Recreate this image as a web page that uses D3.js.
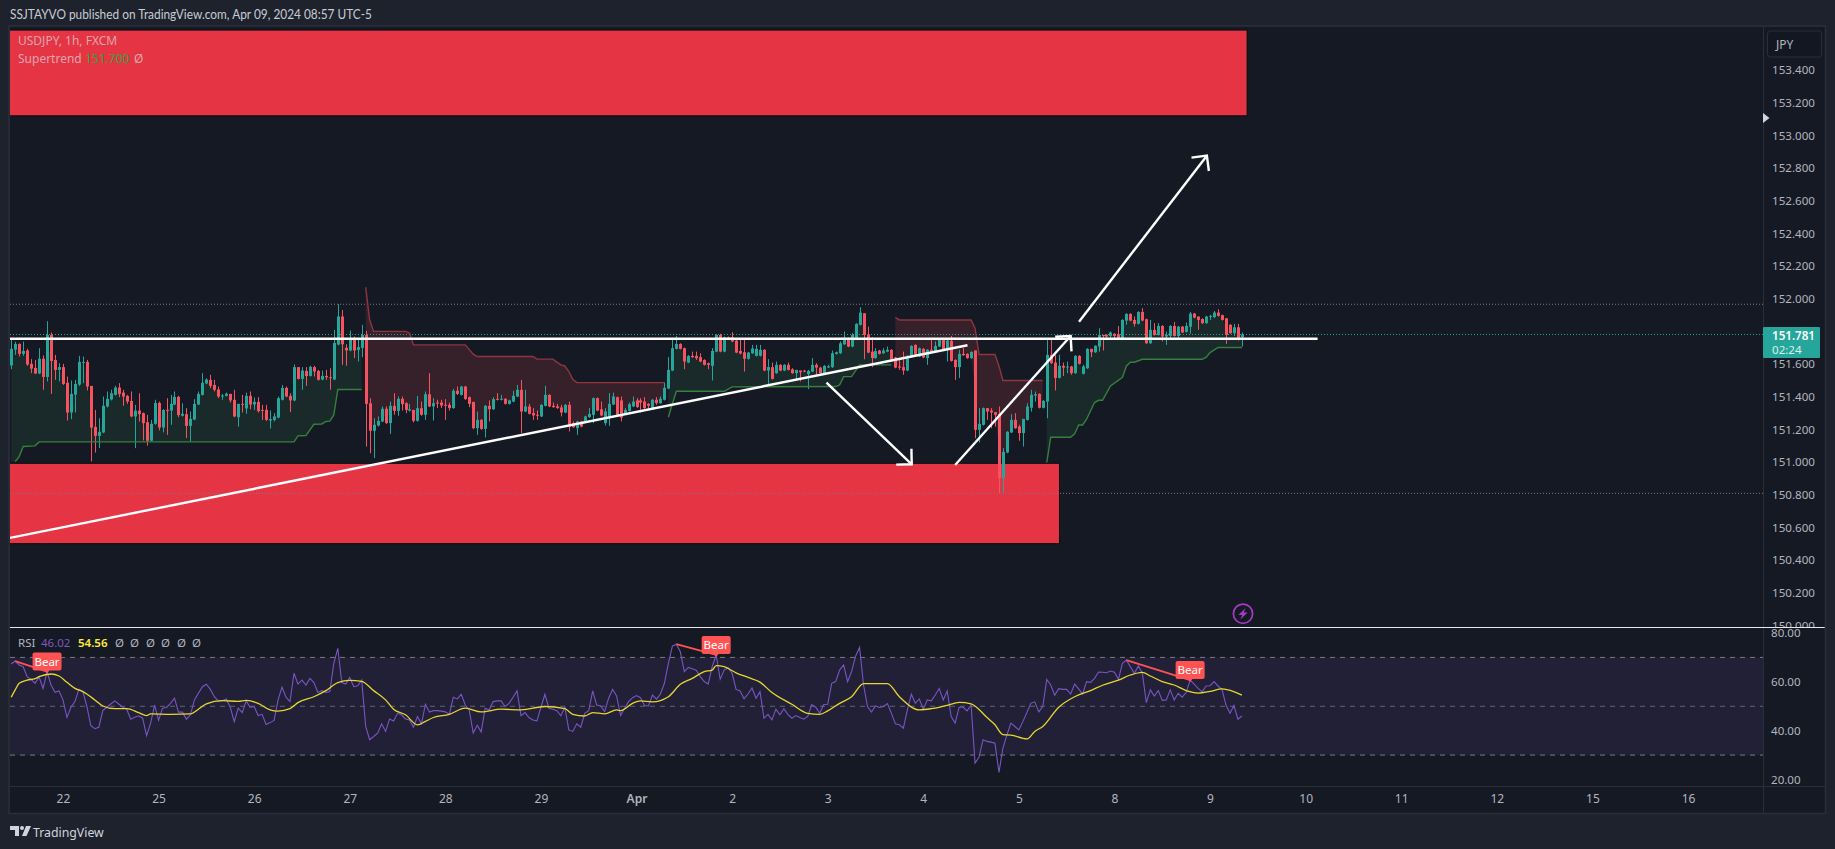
<!DOCTYPE html>
<html><head><meta charset="utf-8"><title>USDJPY 1h</title>
<script src="https://cdn.jsdelivr.net/npm/d3@7/dist/d3.min.js"></script>
<style>
html,body{margin:0;padding:0;background:#1e222d;overflow:hidden}
svg{display:block;font-family:"Noto Sans",sans-serif}
</style></head><body><svg id="c" width="1835" height="849"></svg>
<script>
const opens=[151.591,151.689,151.723,151.662,151.683,151.601,151.576,151.542,151.632,151.521,
151.778,151.625,151.564,151.581,151.485,151.303,151.413,151.474,151.609,151.613,
151.466,151.215,151.160,151.181,151.340,151.383,151.411,151.456,151.425,151.405,
151.374,151.279,151.315,151.299,151.244,151.130,151.234,151.362,151.211,151.319,
151.315,151.352,151.399,151.283,151.293,151.221,151.260,151.352,151.411,151.481,
151.503,151.472,151.444,151.403,151.405,151.417,151.381,151.274,151.356,151.328,
151.405,151.352,151.368,151.319,151.319,151.254,151.258,151.272,151.381,151.454,
151.405,151.377,151.581,151.509,151.558,151.527,151.581,151.558,151.505,151.527,
151.519,151.505,151.719,151.891,151.699,151.683,151.748,151.687,151.699,151.778,
151.360,151.191,151.223,151.248,151.326,151.238,151.344,151.313,151.387,151.360,
151.315,151.319,151.252,151.330,151.289,151.415,151.340,151.364,151.364,151.350,
151.350,151.330,151.436,151.411,151.462,151.397,151.368,151.207,151.258,151.203,
151.344,151.323,151.387,151.381,151.387,151.356,151.370,151.401,151.442,151.309,
151.340,151.299,151.289,151.279,151.344,151.411,151.344,151.340,151.334,151.303,
151.350,151.238,151.207,151.248,151.242,151.275,151.289,151.391,151.323,151.238,
151.279,151.352,151.397,151.377,151.293,151.313,151.340,151.377,151.377,151.370,
151.356,151.330,151.381,151.360,151.381,151.450,151.560,151.693,151.723,151.697,
151.609,151.650,151.650,151.642,151.625,151.605,151.589,151.676,151.778,151.676,
151.764,151.764,151.744,151.680,151.672,151.632,151.666,151.650,151.650,151.687,
151.560,151.581,151.544,151.595,151.560,151.595,151.568,151.544,151.560,151.560,
151.538,151.554,151.595,151.578,151.540,151.580,151.581,151.662,151.666,151.721,
151.758,151.707,151.752,151.840,151.911,151.782,151.676,151.636,151.683,151.666,
151.676,151.687,151.640,151.585,151.581,151.560,151.646,151.717,151.646,151.693,
151.636,151.687,151.676,151.707,151.748,151.691,151.742,151.625,151.581,151.662,
151.662,151.636,151.683,151.197,151.228,151.330,151.315,151.305,151.295,150.901,
151.058,151.181,151.258,151.217,151.177,151.258,151.332,151.407,151.417,151.332,
151.370,151.656,151.609,151.515,151.589,151.580,151.585,151.544,151.650,151.540,
151.574,151.693,151.672,151.707,151.778,151.778,151.772,151.785,151.782,151.754,
151.866,151.907,151.870,151.846,151.919,151.874,151.727,151.809,151.778,151.833,
151.768,151.772,151.833,151.772,151.829,151.797,151.829,151.909,151.891,151.876,
151.850,151.891,151.887,151.915,151.899,151.880,151.840,151.789,151.825,151.764];
const highs=[151.752,151.736,151.727,151.738,151.693,151.630,151.625,151.697,151.652,151.862,
151.793,151.656,151.605,151.601,151.523,151.499,151.503,151.650,151.646,151.625,
151.466,151.319,151.268,151.401,151.432,151.443,151.466,151.483,151.442,151.411,
151.432,151.350,151.421,151.303,151.289,151.258,151.381,151.370,151.323,151.391,
151.411,151.432,151.405,151.360,151.330,151.309,151.385,151.432,151.544,151.513,
151.534,151.503,151.462,151.417,151.425,151.417,151.442,151.356,151.411,151.425,
151.432,151.395,151.397,151.350,151.350,151.315,151.299,151.401,151.472,151.462,
151.421,151.597,151.581,151.581,151.581,151.589,151.589,151.564,151.560,151.564,
151.574,151.809,151.966,151.931,151.721,151.805,151.768,151.752,151.840,151.803,
151.391,151.268,151.279,151.340,151.340,151.370,151.421,151.401,151.401,151.366,
151.356,151.319,151.405,151.370,151.432,151.544,151.391,151.381,151.381,151.385,
151.364,151.448,151.462,151.466,151.466,151.401,151.368,151.309,151.262,151.348,
151.377,151.397,151.421,151.411,151.391,151.381,151.436,151.472,151.503,151.442,
151.356,151.330,151.315,151.354,151.466,151.415,151.364,151.356,151.350,151.354,
151.370,151.248,151.252,151.252,151.283,151.330,151.395,151.395,151.370,151.330,
151.421,151.425,151.401,151.401,151.330,151.364,151.401,151.391,151.391,151.397,
151.360,151.385,151.397,151.401,151.487,151.642,151.758,151.772,151.727,151.701,
151.654,151.676,151.676,151.666,151.629,151.609,151.697,151.782,151.785,151.768,
151.768,151.795,151.752,151.752,151.752,151.674,151.717,151.717,151.717,151.691,
151.630,151.609,151.615,151.599,151.599,151.609,151.574,151.564,151.560,151.564,
151.564,151.636,151.605,151.583,151.593,151.595,151.683,151.676,151.738,151.799,
151.762,151.789,151.850,151.948,151.911,151.829,151.764,151.697,151.687,151.697,
151.707,151.691,151.644,151.636,151.676,151.654,151.715,151.721,151.701,151.697,
151.691,151.752,151.738,151.752,151.752,151.748,151.772,151.629,151.687,151.697,
151.666,151.678,151.683,151.330,151.334,151.330,151.330,151.305,151.340,151.085,
151.189,151.293,151.299,151.228,151.264,151.360,151.442,151.432,151.421,151.379,
151.748,151.748,151.656,151.656,151.609,151.615,151.589,151.654,151.654,151.595,
151.697,151.693,151.715,151.819,151.778,151.782,151.799,151.789,151.833,151.874,
151.911,151.911,151.891,151.923,151.942,151.878,151.870,151.850,151.850,151.838,
151.799,151.838,151.858,151.833,151.833,151.854,151.919,151.913,151.891,151.880,
151.895,151.901,151.925,151.935,151.903,151.880,151.844,151.846,151.846,151.793];
const lows=[151.568,151.656,151.646,151.650,151.589,151.544,151.538,151.538,151.442,151.493,
151.417,151.503,151.493,151.472,151.254,151.262,151.303,151.466,151.483,151.438,
151.003,151.058,151.085,151.177,151.334,151.377,151.407,151.397,151.344,151.356,
151.274,151.085,151.248,151.132,151.100,151.126,151.228,151.193,151.181,151.166,
151.228,151.348,151.274,151.279,151.146,151.126,151.256,151.348,151.407,151.476,
151.452,151.432,151.391,151.381,151.401,151.364,151.274,151.217,151.303,151.295,
151.323,151.319,151.303,151.258,151.252,151.205,151.248,151.268,151.377,151.397,
151.305,151.372,151.505,151.442,151.466,151.523,151.523,151.499,151.501,151.503,
151.442,151.501,151.715,151.595,151.589,151.678,151.636,151.615,151.642,151.095,
151.054,151.024,151.217,151.244,151.234,151.172,151.289,151.283,151.315,151.299,
151.309,151.242,151.248,151.283,151.258,151.336,151.254,151.330,151.330,151.258,
151.315,151.326,151.411,151.407,151.381,151.336,151.201,151.166,151.197,151.150,
151.248,151.319,151.377,151.377,151.352,151.352,151.366,151.397,151.177,151.305,
151.291,151.258,151.258,151.275,151.340,151.336,151.332,151.326,151.279,151.299,
151.187,151.209,151.166,151.213,151.238,151.270,151.238,151.311,151.281,151.223,
151.221,151.348,151.285,151.248,151.289,151.309,151.336,151.332,151.303,151.326,
151.330,151.326,151.350,151.356,151.377,151.446,151.556,151.689,151.689,151.568,
151.605,151.638,151.625,151.611,151.591,151.568,151.499,151.672,151.672,151.672,
151.756,151.734,151.666,151.660,151.554,151.627,151.662,151.646,151.646,151.556,
151.462,151.505,151.540,151.556,151.556,151.560,151.540,151.499,151.493,151.550,
151.446,151.550,151.534,151.540,151.536,151.576,151.576,151.658,151.662,151.717,
151.703,151.703,151.748,151.836,151.629,151.666,151.581,151.632,151.658,151.662,
151.672,151.621,151.574,151.564,151.534,151.556,151.642,151.652,151.642,151.636,
151.595,151.672,151.672,151.703,151.687,151.615,151.615,151.503,151.515,151.650,
151.632,151.632,151.146,151.119,151.223,151.258,151.207,151.217,150.809,150.809,
151.054,151.177,151.203,151.130,151.095,151.254,151.309,151.370,151.328,151.328,
151.268,151.601,151.438,151.511,151.527,151.544,151.534,151.540,151.597,151.536,
151.570,151.642,151.668,151.676,151.683,151.752,151.752,151.752,151.750,151.750,
151.840,151.862,151.829,151.842,151.862,151.723,151.723,151.774,151.774,151.738,
151.717,151.752,151.768,151.752,151.789,151.793,151.785,151.880,151.809,151.846,
151.846,151.870,151.882,151.891,151.866,151.723,151.785,151.772,151.744,151.707];
const closes=[151.693,151.723,151.662,151.680,151.597,151.572,151.542,151.632,151.521,151.778,
151.619,151.564,151.581,151.478,151.303,151.417,151.478,151.613,151.613,151.462,
151.211,151.160,151.185,151.344,151.387,151.421,151.456,151.417,151.401,151.370,
151.279,151.315,151.293,151.238,151.130,151.234,151.362,151.211,151.319,151.315,
151.356,151.399,151.287,151.295,151.221,151.264,151.356,151.417,151.485,151.505,
151.466,151.442,151.401,151.407,151.419,151.377,151.279,151.356,151.354,151.405,
151.352,151.368,151.311,151.313,151.258,151.262,151.279,151.391,151.454,151.401,
151.377,151.581,151.509,151.560,151.527,151.583,151.554,151.503,151.527,151.519,
151.513,151.729,151.891,151.721,151.683,151.752,151.683,151.703,151.778,151.356,
151.191,151.228,151.252,151.326,151.238,151.344,151.313,151.387,151.354,151.319,
151.323,151.252,151.330,151.289,151.415,151.340,151.360,151.360,151.346,151.344,
151.330,151.436,151.417,151.462,151.385,151.356,151.207,151.258,151.203,151.344,
151.323,151.385,151.381,151.387,151.356,151.377,151.405,151.442,151.309,151.340,
151.295,151.285,151.283,151.350,151.411,151.340,151.336,151.330,151.303,151.350,
151.217,151.213,151.248,151.217,151.279,151.295,151.391,151.315,151.285,151.309,
151.356,151.401,151.289,151.272,151.319,151.354,151.370,151.336,151.364,151.330,
151.344,151.381,151.360,151.387,151.454,151.564,151.697,151.723,151.693,151.615,
151.650,151.642,151.636,151.615,151.595,151.595,151.680,151.778,151.676,151.764,
151.760,151.738,151.670,151.664,151.632,151.670,151.695,151.693,151.687,151.560,
151.581,151.509,151.595,151.560,151.595,151.564,151.544,151.564,151.550,151.554,
151.558,151.595,151.578,151.544,151.589,151.585,151.666,151.672,151.727,151.754,
151.707,151.778,151.846,151.915,151.778,151.670,151.636,151.680,151.662,151.683,
151.687,151.625,151.578,151.578,151.560,151.650,151.711,151.656,151.697,151.640,
151.687,151.676,151.711,151.748,151.691,151.744,151.619,151.581,151.662,151.654,
151.636,151.674,151.197,151.234,151.330,151.309,151.303,151.289,150.901,151.062,
151.185,151.258,151.207,151.177,151.264,151.340,151.411,151.415,151.332,151.374,
151.656,151.605,151.515,151.589,151.578,151.585,151.544,151.650,151.601,151.585,
151.693,151.672,151.711,151.778,151.776,151.768,151.793,151.772,151.754,151.870,
151.907,151.866,151.846,151.919,151.866,151.727,151.809,151.778,151.833,151.768,
151.778,151.833,151.772,151.829,151.793,151.833,151.909,151.884,151.870,151.850,
151.891,151.895,151.915,151.895,151.870,151.778,151.789,151.825,151.758,151.781];
const rsiValues=[67.3,68.5,66.9,66.2,62.1,61.0,59.4,62.1,57.3,64.2,58.7,55.7,56.3,52.6,45.4,49.6,51.9,56.9,56.0,49.9,
42.0,40.8,41.4,48.2,49.6,50.9,52.2,50.9,49.6,48.8,44.7,45.5,46.1,45.1,38.0,43.1,50.5,44.2,49.2,49.5,
51.2,53.3,47.6,47.6,44.7,46.5,52.6,55.3,58.0,59.0,56.9,53.9,52.2,52.3,53.0,49.6,43.7,49.2,47.4,52.2,
49.5,49.9,46.2,46.7,42.5,43.3,44.2,52.6,57.8,53.7,51.9,63.5,59.1,60.7,58.7,61.4,59.7,55.6,56.4,55.7,
56.0,67.6,73.7,59.7,59.1,61.8,58.0,58.4,60.7,41.7,36.3,37.6,39.0,42.8,39.7,44.8,44.0,47.1,46.5,44.8,
44.4,41.4,45.8,42.8,50.8,47.6,48.2,48.2,48.0,47.7,46.7,53.7,53.0,54.9,50.5,48.5,39.0,42.2,39.5,49.2,
48.5,51.9,52.2,52.2,49.9,51.2,53.7,56.3,46.1,47.4,45.4,44.4,44.0,49.6,54.9,49.2,48.8,48.2,46.1,49.6,
40.3,39.7,42.8,41.4,47.1,48.2,56.3,50.5,50.1,47.8,53.3,56.9,54.2,
46.2,49.2,51.9,53.5,54.4,53.5,50.3,50.1,54.6,52.9,55.0,59.4,67.6,74.6,75.4,72.3,64.2,65.9,65.4,64.8,
62.1,60.1,59.1,66.2,71.0,61.0,64.8,65.8,63.5,56.9,56.3,53.1,55.0,57.5,53.3,56.0,45.1,46.7,44.4,48.8,
46.5,49.0,46.7,45.1,46.2,45.4,44.7,45.8,50.7,49.6,47.1,50.7,50.8,59.4,60.1,64.8,66.9,60.1,64.2,70.5,
74.1,58.7,49.9,47.6,50.1,49.5,49.9,51.1,47.1,42.8,42.4,41.0,48.5,54.9,51.2,53.0,48.8,52.6,52.2,54.6,
57.3,52.6,56.3,45.8,43.1,49.6,49.6,48.1,50.5,26.7,29.2,36.3,35.6,35.3,34.9,22.9,32.9,38.3,43.1,41.7,
40.3,43.7,47.4,51.2,51.8,47.7,49.9,61.0,58.7,54.5,57.2,56.9,56.9,55.0,59.1,57.1,55.0,60.1,59.8,61.4,
64.0,63.9,63.7,64.4,63.9,61.0,67.6,68.9,66.2,63.5,66.5,63.5,51.5,56.7,54.2,56.4,52.4,52.6,56.7,52.6,
55.3,53.7,55.6,60.7,59.1,57.3,56.0,58.3,58.4,60.1,58.3,56.9,50.5,47.1,50.3,44.7,46.02];
const rsiMaBars=[0,1,2,4,6,7,10,12,14,16,18,21,23,26,29,32,34,35,40,45,47,49,53,57,59,62,65,67,70,72,76,79,82,85,88,91,94,96,99,102,104,106,110,114,118,123,128,134,139,141,144,146,149,152,153,156,158,161,165,168,171,174,176,177,179,182,185,188,191,196,200,203,205,208,211,214,220,223,228,231,235,238,241,245,247,249,251,255,257,259,263,267,271,274,278,281,284,286,289,292,295,298,301,304,309];
const rsiMaValues=[53.7,56.7,59.4,60.7,61.3,62.1,63.2,62.4,59.8,57.3,56.0,52.6,50.1,49.0,49.0,47.4,46.2,46.9,46.7,46.9,48.8,51.0,52.3,52.0,52.4,51.2,48.5,48.0,49.0,51.5,53.9,56.4,59.7,60.6,60.2,56.4,52.6,48.8,46.5,42.4,43.8,45.4,46.7,49.2,47.7,48.8,48.5,49.9,49.0,46.7,46.0,47.4,46.9,48.5,48.2,51.2,52.2,51.8,53.9,59.0,61.4,64.2,64.8,66.6,66.2,63.7,61.8,59.9,55.6,50.8,47.1,46.7,48.1,51.2,53.9,59.3,59.3,53.9,48.5,49.0,50.4,51.6,51.0,45.4,42.4,38.4,38.2,36.6,39.7,41.7,49.6,53.9,56.4,58.6,60.7,62.8,63.9,62.4,60.1,58.7,56.4,55.4,56.1,57.1,54.56];

const upBars1=[1,2,3,6,7,71,72,74,76,78,79,80,81,82,88];
const upVals1=[151.003,151.033,151.095,151.099,151.123,151.123,151.16,151.162,151.231,151.233,151.248,151.25,151.288,151.444,151.444];
const downBars1=[89,90,91,99,100,101,114,116,117,131,132,136,138,139,140,141,142,164];
const downVals1=[152.07,151.87,151.80,151.80,151.79,151.717,151.717,151.66,151.646,151.646,151.63,151.63,151.595,151.588,151.554,151.507,151.486,151.486];
const upBars2=[165,166,167,179,181,207,208,209,211,213,221];
const upVals2=[151.274,151.356,151.433,151.433,151.46,151.462,151.472,151.523,151.523,151.595,151.595];
const downBars2=[222,223,241,242,243,247,248,249,259];
const downVals2=[151.886,151.87,151.87,151.819,151.658,151.658,151.588,151.499,151.499];
const upBars3=[260,261,266,267,268,269,270,272,273,274,276,279,280,281,282,284,299,300,301,303,309];
const upVals3=[150.997,151.152,151.152,151.172,151.227,151.227,151.262,151.364,151.378,151.378,151.466,151.519,151.588,151.611,151.611,151.629,151.629,151.64,151.67,151.701,151.701];

const priceTicks=[153.4,153.2,153,152.8,152.6,152.4,152.2,152,151.6,151.4,151.2,151,150.8,150.6,150.4,150.2,150];
const rsiTicks=[80,60,40,20];
const dayBars=[13,37,61,85,109,133,157,181,205,229,253,277,301,325,349,373,397,421];
const dayLabels=["22","25","26","27","28","29","Apr","2","3","4","5","8","9","10","11","12","15","16"];
const dottedLevels=[151.966,150.808];
const lastPrice=151.781;
// [fromBar, toBar, top price, bottom price]
const boxTop=[-5,310.3,153.645,153.12];
const boxBottom=[-5,263.2,150.992,150.5];
// [barA, priceA, barB, priceB]
const levelLine=[-5,151.755,328,151.755];
const trendLine=[-0.3,150.535,240.1,151.715];
const arrowDown=[204.7,151.486,226.1,150.986];
const arrowUp=[237,150.982,266,151.772];
const arrowTarget=[268.1,151.859,300.2,152.876];
// [barA, rsiA, barB, rsiB]
const bearDivs=[[1,68.5,9,64.2],[167,75.4,177,71.0],[280,68.9,296,60.7]];

const GREEN="#26a69a",RED="#f7525f",PANE="#151924",FRAME="#2a2e39",TXT="#b2b5be";
const svg=d3.select("#c");
const x=d3.scaleLinear([0,421],[11.2,1688]);
const y=d3.scaleLinear([152,150],[298.7,625.3]);
const ry=d3.scaleLinear([80,20],[633,779.5]);
const L=10,R=1763,O=1825,T=27,D=627,A=786,B=813;
const defs=svg.append("defs");
const cp=(id,a,b,c,d)=>defs.append("clipPath").attr("id",id).append("rect").attr("x",a).attr("y",b).attr("width",c).attr("height",d);
cp("main",L,T,R-L,D-T);cp("low",L,D,R-L,A-D);cp("pscale",R,T,O-R,D-T);
svg.append("rect").attr("x",L).attr("y",T).attr("width",O-L).attr("height",B-T).attr("fill",PANE);
svg.append("text").attr("x",10).attr("y",19).attr("fill","#c8cbd3").attr("font-size",13).attr("font-family","Lato,sans-serif").attr("textLength",362).attr("lengthAdjust","spacingAndGlyphs").text("SSJTAYVO published on TradingView.com, Apr 09, 2024 08:57 UTC-5");

const main=svg.append("g").attr("clip-path","url(#main)");
[boxTop,boxBottom].forEach(b=>main.append("rect").attr("x",x(b[0])).attr("y",y(b[2])).attr("width",x(b[1])-x(b[0])).attr("height",y(b[3])-y(b[2])).attr("fill","#e53545").attr("stroke","#0b0d12").attr("stroke-width",1));
dottedLevels.forEach(v=>main.append("line").attr("x1",L).attr("x2",R).attr("y1",y(v)).attr("y2",y(v)).attr("stroke","#787b86").attr("stroke-dasharray","1 2"));
main.append("line").attr("x1",L).attr("x2",R).attr("y1",y(lastPrice)).attr("y2",y(lastPrice)).attr("stroke",GREEN).attr("stroke-dasharray","1 2");

const segs=[[upBars1,upVals1,"up"],[downBars1,downVals1,"dn"],[upBars2,upVals2,"up"],[downBars2,downVals2,"dn"],[upBars3,upVals3,"up"]];
const firstBar=[0,89,165,222,260];
segs.forEach((s,i)=>{
  const st=d3.scaleLinear(s[0],s[1]).clamp(true);
  const idx=d3.range(firstBar[i],s[0][s[0].length-1]+1);
  main.append("path").attr("d",d3.area().x(n=>x(n)).y0(n=>y(st(n))).y1(n=>y((opens[n]+closes[n])/2))(idx))
    .attr("fill",s[2]=="up"?"rgba(76,175,80,.11)":"rgba(255,82,82,.14)");
});
const cg=main.append("g");
const bars=d3.range(opens.length);
cg.selectAll("line").data(bars).join("line").attr("x1",n=>Math.round(x(n))+.5).attr("x2",n=>Math.round(x(n))+.5)
  .attr("y1",n=>y(highs[n])).attr("y2",n=>y(lows[n])).attr("stroke",n=>closes[n]>=opens[n]?GREEN:RED);
cg.selectAll("rect").data(bars).join("rect").attr("x",n=>Math.round(x(n))-1).attr("width",3)
  .attr("y",n=>y(Math.max(opens[n],closes[n]))).attr("height",n=>Math.max(1,Math.abs(y(opens[n])-y(closes[n]))))
  .attr("fill",n=>closes[n]>=opens[n]?GREEN:RED);
const ln=d3.line().x(d=>x(d[0])).y(d=>y(d[1]));
segs.forEach(s=>main.append("path").attr("d",ln(d3.zip(s[0],s[1]))).attr("fill","none")
  .attr("stroke",s[2]=="up"?"#35803d":"#8e3540").attr("stroke-width",1.4));
const seg=(g,a,w)=>g.append("line").attr("x1",x(a[0])).attr("y1",y(a[1])).attr("x2",x(a[2])).attr("y2",y(a[3])).attr("stroke","#fff").attr("stroke-width",w);
seg(main,levelLine,2.4);seg(main,trendLine,2.4);
[arrowDown,arrowUp,arrowTarget].forEach(a=>{
  seg(main,a,2.4);
  const X=x(a[2]),Y=y(a[3]),ang=Math.atan2(y(a[1])-Y,x(a[0])-X);
  const p=d3.path(),len=15.5;
  p.moveTo(X+len*Math.cos(ang-Math.PI/4),Y+len*Math.sin(ang-Math.PI/4));p.lineTo(X,Y);p.lineTo(X+len*Math.cos(ang+Math.PI/4),Y+len*Math.sin(ang+Math.PI/4));
  main.append("path").attr("d",p.toString()).attr("fill","none").attr("stroke","#fff").attr("stroke-width",2.4);
});
// lightning marker
const bolt=svg.append("g").attr("transform","translate(1243,613.7)");
bolt.append("circle").attr("r",9.6).attr("fill","none").attr("stroke","#a63ac4").attr("stroke-width",1.7);
bolt.append("path").attr("d","M2.6 -5.8 L-4.6 1.2 L-.8 1.2 L-2.6 5.8 L4.6 -1.2 L.8 -1.2 Z").attr("fill","#a63ac4");

// legends
const leg=svg.append("g").attr("font-size",12);
leg.append("text").attr("x",18).attr("y",45).attr("fill","#e2a3ab").text("USDJPY, 1h, FXCM");
leg.append("text").attr("x",18).attr("y",63).attr("fill","#e2a3ab").text("Supertrend");
leg.append("text").attr("x",85).attr("y",63).attr("fill","#2fa33f").text("151.700");
leg.append("text").attr("x",134).attr("y",63).attr("fill","#e2a3ab").text("Ø");

// RSI pane
const low=svg.append("g").attr("clip-path","url(#low)");
low.append("rect").attr("x",L).attr("width",R-L).attr("y",ry(70)).attr("height",ry(30)-ry(70)).attr("fill","rgba(126,87,194,.12)");
[70,50,30].forEach(v=>low.append("line").attr("x1",L).attr("x2",R).attr("y1",ry(v)).attr("y2",ry(v)).attr("stroke","#787b86").attr("stroke-dasharray","5 5").attr("opacity",v==50?.75:1));
low.append("path").attr("d",d3.line().x((d,i)=>x(i)).y(d=>ry(d))(rsiValues)).attr("fill","none").attr("stroke","#7a54c4").attr("stroke-width",1.1);
low.append("path").attr("d",d3.line().curve(d3.curveMonotoneX).x(d=>x(d[0])).y(d=>ry(d[1]))(d3.zip(rsiMaBars,rsiMaValues))).attr("fill","none").attr("stroke","#e6d62f").attr("stroke-width",1.3);
bearDivs.forEach(b=>{
  low.append("line").attr("x1",x(b[0])).attr("y1",ry(b[1])).attr("x2",x(b[2])).attr("y2",ry(b[3])).attr("stroke","#ff5252").attr("stroke-width",1.8);
  const cx=x(b[2]),cy=ry(b[3]);
  low.append("path").attr("d",`M${cx-3} ${cy-2}L${cx} ${cy+2}L${cx+3} ${cy-2}Z`).attr("fill","#ff5252");
  low.append("rect").attr("x",cx-14.5).attr("y",cy-19).attr("width",29).attr("height",18).attr("rx",2).attr("fill","#ff5252");
  low.append("text").attr("x",cx).attr("y",cy-6).attr("text-anchor","middle").attr("fill","#fff").attr("font-size",11.5).text("Bear");
});
const rl=svg.append("g").attr("font-size",11.5);
rl.append("text").attr("x",18).attr("y",647).attr("fill",TXT).text("RSI");
rl.append("text").attr("x",41).attr("y",647).attr("fill","#7e57c2").text("46.02");
rl.append("text").attr("x",78).attr("y",647).attr("fill","#ffeb3b").attr("font-weight",600).text("54.56");
[115,130,146,161,177,192].forEach(v=>rl.append("text").attr("x",v).attr("y",647).attr("fill",TXT).text("Ø"));

// axes
const sty=g=>{g.select(".domain").remove();g.selectAll("text").attr("fill",TXT).attr("font-size",11.6).attr("font-family",'"Noto Sans",sans-serif');};
svg.append("g").attr("clip-path","url(#pscale)").append("g").attr("transform",`translate(${R},0)`)
  .call(d3.axisRight(y).tickValues(priceTicks).tickFormat(d3.format(".3f")).tickSize(0).tickPadding(9)).call(sty);
svg.append("g").attr("transform",`translate(${R},0)`)
  .call(d3.axisRight(ry).tickValues(rsiTicks).tickFormat(d3.format(".2f")).tickSize(0).tickPadding(8)).call(sty);
svg.append("g").attr("transform",`translate(0,${A})`)
  .call(d3.axisBottom(x).tickValues(dayBars).tickFormat((d,i)=>dayLabels[i]).tickSize(0).tickPadding(8)).call(sty)
  .selectAll("text").attr("font-size",12).attr("font-weight",(d,i)=>dayLabels[i]=="Apr"?600:400);

// frame lines
const hl=(a,b,c,col,w=1)=>svg.append("line").attr("x1",a).attr("x2",b).attr("y1",c).attr("y2",c).attr("stroke",col).attr("stroke-width",w);
const vl=(a,b,c,col)=>svg.append("line").attr("y1",a).attr("y2",b).attr("x1",c).attr("x2",c).attr("stroke",col);
vl(T,B,R+.5,FRAME);hl(L,O,A+.5,FRAME);
hl(L,O,D+.5,"#e8e8ec",1.2);
svg.append("rect").attr("x",L-1).attr("y",T-1).attr("width",O-L+1.5).attr("height",B-T+1.5).attr("fill","none").attr("stroke",FRAME).attr("stroke-width",1.6);

// JPY button, marker, last price tag
svg.append("rect").attr("x",1767.5).attr("y",31).attr("width",54).attr("height",26).attr("rx",3).attr("fill","#131722").attr("stroke",FRAME);
svg.append("text").attr("x",1776).attr("y",49).attr("fill",TXT).attr("font-size",12).text("JPY");
svg.append("path").attr("d","M1763 113L1769.5 118L1763 123Z").attr("fill","#d1d4dc");
svg.append("rect").attr("x",R).attr("y",327).attr("width",57).attr("height",31).attr("rx",1).attr("fill",GREEN);
svg.append("text").attr("x",1772).attr("y",340).attr("fill","#fff").attr("font-size",11.6).attr("font-weight",600).text("151.781");
svg.append("text").attr("x",1772).attr("y",354).attr("fill","#d6f0ec").attr("font-size",11.6).text("02:24");

// footer logo
const lg=svg.append("g");
lg.append("path").attr("d","M10 826H19V836H15V830H10Z M26 826H31L26.5 836H22Z").attr("fill","#d1d4dc");
lg.append("circle").attr("cx",22).attr("cy",828).attr("r",2).attr("fill","#d1d4dc");
svg.append("text").attr("x",33).attr("y",837).attr("fill","#d1d4dc").attr("font-size",12.3).text("TradingView");
</script></body></html>
